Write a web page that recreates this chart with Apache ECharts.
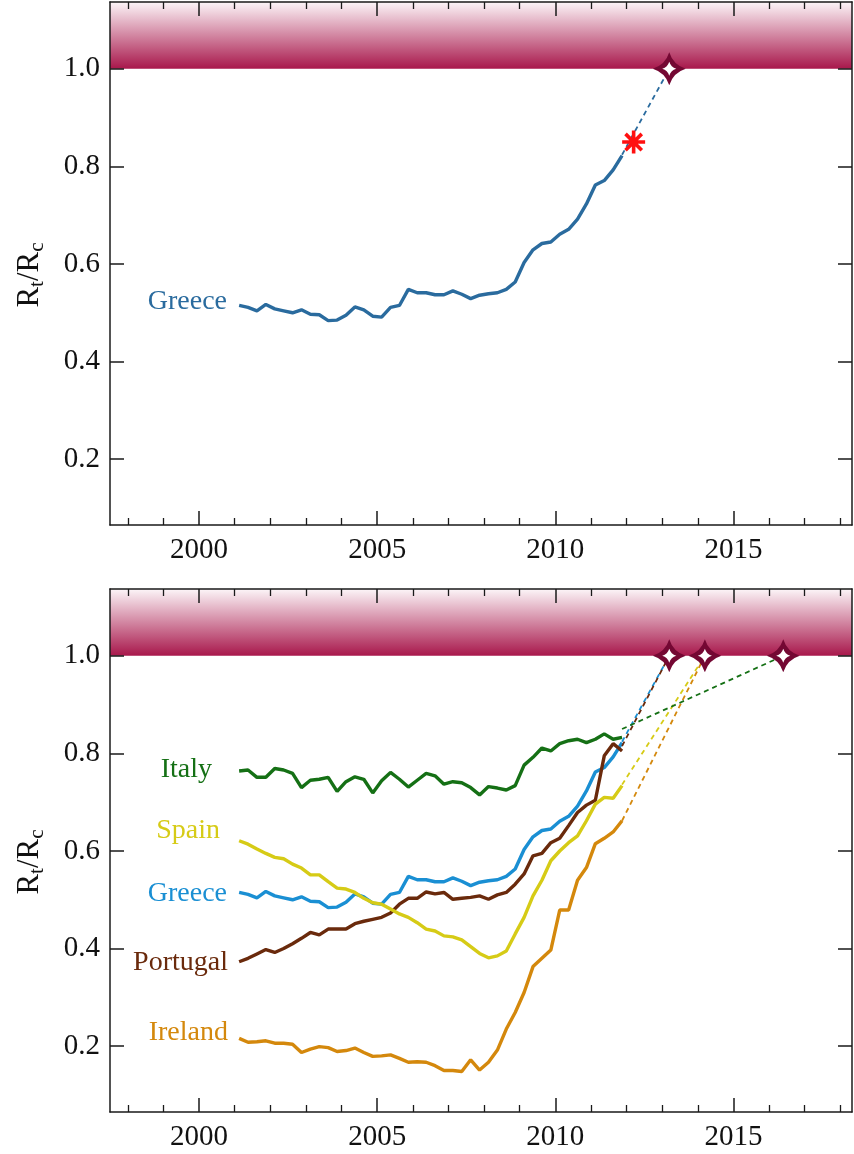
<!DOCTYPE html>
<html>
<head>
<meta charset="utf-8">
<script src="https://cdn.jsdelivr.net/npm/echarts@6/dist/echarts.min.js"></script>
<style>
  html, body { margin: 0; padding: 0; background: #fff; }
  #chart { width: 854px; height: 1154px; }
</style>
</head>
<body>
<div id="chart"></div>
<script>
// quarter midpoints, 2001 Q1 .. 2011 Q4
const quarters = [
  2001.125, 2001.375, 2001.625, 2001.875, 2002.125, 2002.375, 2002.625, 2002.875,
  2003.125, 2003.375, 2003.625, 2003.875, 2004.125, 2004.375, 2004.625, 2004.875,
  2005.125, 2005.375, 2005.625, 2005.875, 2006.125, 2006.375, 2006.625, 2006.875,
  2007.125, 2007.375, 2007.625, 2007.875, 2008.125, 2008.375, 2008.625, 2008.875,
  2009.125, 2009.375, 2009.625, 2009.875, 2010.125, 2010.375, 2010.625, 2010.875,
  2011.125, 2011.375, 2011.625, 2011.875
]
const greece = [
  0.515, 0.511, 0.504, 0.517, 0.508, 0.504, 0.500, 0.506, 0.497, 0.496,
  0.484, 0.485, 0.495, 0.512, 0.506, 0.493, 0.491, 0.511, 0.515, 0.548,
  0.541, 0.541, 0.537, 0.537, 0.545, 0.538, 0.529, 0.536, 0.539, 0.541,
  0.548, 0.563, 0.603, 0.629, 0.642, 0.645, 0.661, 0.671, 0.692, 0.723,
  0.762, 0.771, 0.793, 0.822
]
const italy = [
  0.764, 0.766, 0.751, 0.751, 0.769, 0.766, 0.759, 0.730, 0.745, 0.747,
  0.751, 0.722, 0.742, 0.752, 0.747, 0.719, 0.744, 0.761, 0.747, 0.731,
  0.745, 0.759, 0.754, 0.737, 0.742, 0.740, 0.730, 0.715, 0.732, 0.729,
  0.725, 0.734, 0.776, 0.792, 0.811, 0.805, 0.820, 0.826, 0.829, 0.822,
  0.829, 0.840, 0.829, 0.833
]
const spain = [
  0.621, 0.614, 0.604, 0.595, 0.587, 0.584, 0.573, 0.565, 0.551, 0.551,
  0.537, 0.524, 0.522, 0.515, 0.503, 0.494, 0.491, 0.481, 0.471, 0.464,
  0.453, 0.440, 0.436, 0.426, 0.424, 0.418, 0.404, 0.390, 0.381, 0.385,
  0.395, 0.430, 0.464, 0.508, 0.540, 0.580, 0.600, 0.617, 0.631, 0.662,
  0.696, 0.710, 0.708, 0.734
]
const portugal = [
  0.373, 0.380, 0.389, 0.398, 0.392, 0.400, 0.410, 0.421, 0.433, 0.428,
  0.440, 0.440, 0.440, 0.451, 0.456, 0.460, 0.464, 0.473, 0.491, 0.503,
  0.503, 0.516, 0.512, 0.515, 0.501, 0.503, 0.505, 0.508, 0.501, 0.510,
  0.515, 0.532, 0.553, 0.590, 0.595, 0.617, 0.626, 0.652, 0.679, 0.694,
  0.704, 0.795, 0.820, 0.805
]
const ireland = [
  0.216, 0.208, 0.209, 0.211, 0.206, 0.206, 0.204, 0.187, 0.194, 0.199,
  0.197, 0.189, 0.191, 0.196, 0.187, 0.179, 0.180, 0.182, 0.175, 0.167,
  0.168, 0.167, 0.160, 0.150, 0.150, 0.148, 0.172, 0.151, 0.167, 0.192,
  0.235, 0.269, 0.310, 0.363, 0.380, 0.397, 0.479, 0.479, 0.540, 0.566,
  0.615, 0.626, 0.639, 0.662
]

// dashed extrapolations: value where the fit starts (at the last quarter) and year it hits 1.0
const trendStartYear = 2011.875
const trendNames = ['Greece', 'Portugal', 'Spain', 'Ireland', 'Italy']
const trendFrom = [0.824, 0.815, 0.736, 0.662, 0.85]
const trendTo = [2013.2, 2013.2, 2014.2, 2014.2, 2016.4]
const starYears = [2013.2, 2014.2, 2016.4]
const topStarYear = 2013.2
const asterisk = [2012.2, 0.85]

const xTicks = [2000, 2005, 2010, 2015]
const yTicks = [0.2, 0.4, 0.6, 0.8, 1.0]
const xMin = 1997.5, xMax = 2018.33
const yMin = 0.065, yMax = 1.137

const FONT = '"Liberation Serif", "DejaVu Serif", serif'
const AXIS = '#1a1a1a'
const colors = {
  greeceTop: '#2a6b9e',
  Greece: '#1a8fd3',
  Italy: '#157015',
  Spain: '#d6cb16',
  Portugal: '#6a2a0c',
  Ireland: '#d4880c'
}
const STAR = '#740833'
const starPath = 'path://M0,-17 Q4,-4 17,0 Q4,4 0,17 Q-4,4 -17,0 Q-4,-4 0,-17 Z'
const asteriskPath = 'path://M0,-10 L0,10 M-10,0 L10,0 M-7.07,-7.07 L7.07,7.07 M-7.07,7.07 L7.07,-7.07'

const chart = echarts.init(document.getElementById('chart'), null, { renderer: 'canvas' })

function zip(vals) {
  return quarters.map((q, i) => [q, vals[i]])
}

function xAxesFor(grid) {
  const base = {
    type: 'value', gridIndex: grid, min: xMin, max: xMax, z: 5,
    axisLine: { show: true, onZero: false, lineStyle: { color: AXIS, width: 1.5 } },
    axisTick: { show: true, inside: true, length: 14, customValues: xTicks, lineStyle: { color: AXIS, width: 1.5 } },
    minorTick: { show: true, splitNumber: 5, length: 7, lineStyle: { color: AXIS, width: 1.3 } },
    splitLine: { show: false }, minorSplitLine: { show: false }
  }
  return [
    Object.assign({}, base, {
      position: 'bottom',
      axisLabel: { show: true, customValues: xTicks, margin: 11, fontFamily: FONT, fontSize: 29, color: '#111', formatter: v => String(v) }
    }),
    Object.assign({}, base, { position: 'top', axisLabel: { show: false } })
  ]
}

function yAxesFor(grid) {
  const base = {
    type: 'value', gridIndex: grid, min: yMin, max: yMax, z: 5,
    axisLine: { show: true, onZero: false, lineStyle: { color: AXIS, width: 1.5 } },
    axisTick: { show: true, inside: true, length: 14, customValues: yTicks, lineStyle: { color: AXIS, width: 1.5 } },
    splitLine: { show: false }
  }
  return [
    Object.assign({}, base, {
      position: 'left',
      axisLabel: { show: true, customValues: yTicks, margin: 10, fontFamily: FONT, fontSize: 29, color: '#111', formatter: v => v.toFixed(1) }
    }),
    Object.assign({}, base, { position: 'right', axisLabel: { show: false } })
  ]
}

const band = {
  silent: true,
  itemStyle: {
    opacity: 1,
    color: new echarts.graphic.LinearGradient(0, 0, 0, 1, [
      { offset: 0, color: '#fcf5f8' },
      { offset: 1, color: '#a8174b' }
    ])
  },
  data: [[{ yAxis: 1.0 }, { yAxis: yMax }]]
}

function lineSeries(name, vals, color, xi, yi, extra) {
  return Object.assign({
    name: name, type: 'line', xAxisIndex: xi, yAxisIndex: yi,
    data: zip(vals), showSymbol: false, symbol: 'none', z: 3,
    lineStyle: { color: color, width: 3.4 }, itemStyle: { color: color }
  }, extra || {})
}

function dashSeries(color, from, toYear, xi, yi) {
  return {
    type: 'line', xAxisIndex: xi, yAxisIndex: yi, showSymbol: false, symbol: 'none', z: 3,
    data: [[trendStartYear, from], [toYear, 1.0]],
    lineStyle: { color: color, width: 1.8, type: [5, 4] }
  }
}

function starSeries(years, xi, yi) {
  const pts = years.map(y => [y, 1.0])
  return [
    { type: 'scatter', xAxisIndex: xi, yAxisIndex: yi, data: pts, symbol: starPath, symbolSize: 33, z: 8, clip: false,
      itemStyle: { color: STAR, opacity: 1 } },
    { type: 'scatter', xAxisIndex: xi, yAxisIndex: yi, data: pts, symbol: starPath, symbolSize: 14, z: 9, clip: false,
      itemStyle: { color: '#ffffff', opacity: 1 } }
  ]
}

const series = []
// top panel
series.push(lineSeries('Greece', greece, colors.greeceTop, 0, 0, { markArea: band }))
series.push(dashSeries(colors.greeceTop, trendFrom[0], trendTo[0], 0, 0))
series.push(...starSeries([topStarYear], 0, 0))
series.push({
  type: 'scatter', xAxisIndex: 0, yAxisIndex: 0, data: [asterisk], symbol: asteriskPath, symbolSize: 23, z: 8,
  itemStyle: { color: 'rgba(0,0,0,0)', borderColor: '#ff1010', borderWidth: 3.6, opacity: 1 }
})

// bottom panel
const bottomVals = { Greece: greece, Portugal: portugal, Spain: spain, Ireland: ireland, Italy: italy }
trendNames.forEach((n, i) => {
  series.push(lineSeries(n, bottomVals[n], colors[n], 2, 2, i === 0 ? { markArea: band } : {}))
})
trendNames.forEach((n, i) => {
  series.push(dashSeries(colors[n], trendFrom[i], trendTo[i], 2, 2))
})
series.push(...starSeries(starYears, 2, 2))

function label(text, x, y, color) {
  return {
    type: 'text', x: x, y: y, z: 20,
    style: { text: text, align: 'right', verticalAlign: 'middle', fontFamily: FONT, fontSize: 28, fill: color }
  }
}
function yName(y) {
  return {
    type: 'text', x: 30, y: y, rotation: Math.PI / 2, z: 20,
    style: {
      text: '{r|R}{s|t}{r|/R}{s|c}', align: 'center', verticalAlign: 'middle', fill: '#111',
      rich: {
        r: { fontFamily: FONT, fontSize: 31, lineHeight: 36, fill: '#111' },
        s: { fontFamily: FONT, fontSize: 21, lineHeight: 21, verticalAlign: 'bottom', fill: '#111' }
      }
    }
  }
}

const option = {
  animation: false,
  backgroundColor: '#ffffff',
  grid: [
    { left: 110, top: 2, width: 742, height: 523, outerBoundsMode: 'none', containLabel: false },
    { left: 110, top: 589, width: 742, height: 523, outerBoundsMode: 'none', containLabel: false }
  ],
  xAxis: [...xAxesFor(0), ...xAxesFor(1)],
  yAxis: [...yAxesFor(0), ...yAxesFor(1)],
  series: series,
  graphic: [
    yName(275), yName(862),
    label('Greece', 227, 302, colors.greeceTop),
    label('Italy', 212, 770, colors.Italy),
    label('Spain', 220, 831, colors.Spain),
    label('Greece', 227, 894, colors.Greece),
    label('Portugal', 228, 963, colors.Portugal),
    label('Ireland', 228, 1033, colors.Ireland)
  ]
}
chart.setOption(option)
</script>
</body>
</html>
